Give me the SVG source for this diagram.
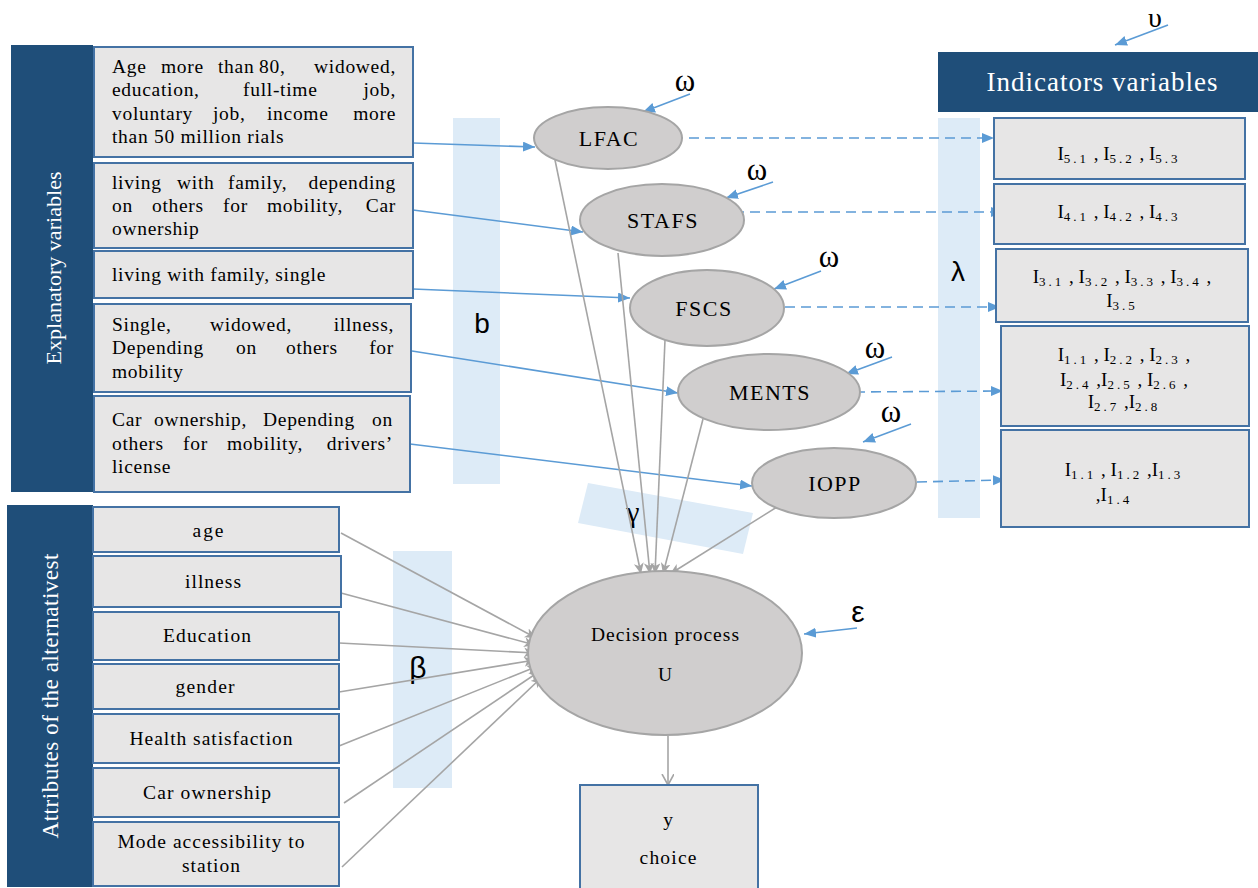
<svg xmlns="http://www.w3.org/2000/svg" width="1258" height="888" viewBox="0 0 1258 888">
<style>
.dark{fill:#1F4E79}
.box{fill:#E7E6E6;stroke:#4472A4;stroke-width:2}
.band{fill:#DDEBF7}
.ell{fill:#D0CECE;stroke:#A5A5A5;stroke-width:2}
.t{font-family:"Liberation Serif","Times New Roman",serif;fill:#000;font-size:19.5px;letter-spacing:0.7px}
.tc{font-family:"Liberation Serif","Times New Roman",serif;fill:#000;font-size:19.5px;text-anchor:middle}
.lbl{font-family:"Liberation Serif","Times New Roman",serif;fill:#000;font-size:22px;letter-spacing:1.5px;text-anchor:middle}
.wt{font-family:"Liberation Serif","Times New Roman",serif;fill:#fff}
.gk{font-family:"Liberation Serif","Times New Roman",serif;fill:#000;text-anchor:middle}
.gs{font-family:"Liberation Sans",Arial,sans-serif;fill:#000;text-anchor:middle}
.ind{font-family:"Liberation Serif","Times New Roman",serif;fill:#000;font-size:19px;text-anchor:middle}
.sb{font-size:13px;letter-spacing:3px}
.blue{stroke:#5B9BD5;stroke-width:1.6;fill:none}
.dash{stroke:#5B9BD5;stroke-width:1.6;fill:none;stroke-dasharray:10 6}
.gray{stroke:#A5A5A5;stroke-width:1.6;fill:none}
</style>
<defs>
<marker id="ab" markerUnits="userSpaceOnUse" markerWidth="14" markerHeight="12" refX="12" refY="5" orient="auto">
<path d="M0,0 L12,5 L0,10 z" fill="#5B9BD5"/>
</marker>
<marker id="ag" markerUnits="userSpaceOnUse" markerWidth="14" markerHeight="14" refX="11" refY="6" orient="auto">
<path d="M0,0 L11,6 L0,12" fill="none" stroke="#A5A5A5" stroke-width="1.6"/>
</marker>
<marker id="agf" markerUnits="userSpaceOnUse" markerWidth="14" markerHeight="14" refX="11" refY="5" orient="auto">
<path d="M0,0 L11,5 L0,10 L3,5 z" fill="#A5A5A5"/>
</marker>
</defs>

<!-- background bands -->
<rect class="band" x="453" y="118" width="47" height="366"/>
<rect class="band" x="393" y="551" width="59" height="237"/>
<rect class="band" x="938" y="118" width="42" height="400"/>
<polygon class="band" points="588,483 753,513 743,554 578,523"/>
<text class="gs" x="482" y="333" font-size="28">b</text>
<text class="gs" x="418" y="678" font-size="30">β</text>
<text class="gs" x="958" y="281" font-size="28">λ</text>
<text class="gk" x="633" y="522" font-size="30">γ</text>

<!-- connectors -->
<g id="connectors">
<line class="blue" x1="413" y1="143" x2="535" y2="147" marker-end="url(#ab)"/>
<line class="blue" x1="413" y1="210" x2="583" y2="232" marker-end="url(#ab)"/>
<line class="blue" x1="413" y1="289" x2="630" y2="298" marker-end="url(#ab)"/>
<line class="blue" x1="412" y1="351" x2="678" y2="393" marker-end="url(#ab)"/>
<line class="blue" x1="410" y1="444" x2="752" y2="486" marker-end="url(#ab)"/>

<line class="dash" x1="673" y1="138" x2="994" y2="138" marker-end="url(#ab)"/>
<line class="dash" x1="734" y1="212" x2="1003" y2="212" marker-end="url(#ab)"/>
<line class="dash" x1="785" y1="307" x2="1000" y2="307" marker-end="url(#ab)"/>
<line class="dash" x1="855" y1="392" x2="1003" y2="391" marker-end="url(#ab)"/>
<line class="dash" x1="917" y1="482" x2="1005" y2="480" marker-end="url(#ab)"/>

<line class="blue" x1="1168" y1="25" x2="1115" y2="45" marker-end="url(#ab)"/>
<line class="blue" x1="690" y1="94" x2="643" y2="112" marker-end="url(#ab)"/>
<line class="blue" x1="773" y1="182" x2="726" y2="198" marker-end="url(#ab)"/>
<line class="blue" x1="821" y1="271" x2="774" y2="289" marker-end="url(#ab)"/>
<line class="blue" x1="892" y1="357" x2="846" y2="374" marker-end="url(#ab)"/>
<line class="blue" x1="911" y1="424" x2="863" y2="442" marker-end="url(#ab)"/>
<line class="blue" x1="857" y1="628" x2="804" y2="634" marker-end="url(#ab)"/>

<line class="gray" x1="555" y1="160" x2="641" y2="574" marker-end="url(#agf)"/>
<line class="gray" x1="618" y1="253" x2="650" y2="574" marker-end="url(#agf)"/>
<line class="gray" x1="665" y1="340" x2="655" y2="574" marker-end="url(#agf)"/>
<line class="gray" x1="703" y1="419" x2="663" y2="574" marker-end="url(#agf)"/>
<line class="gray" x1="777" y1="507" x2="670" y2="574" marker-end="url(#agf)"/>

<line class="gray" x1="341" y1="533" x2="536" y2="638" marker-end="url(#agf)"/>
<line class="gray" x1="341" y1="593" x2="535" y2="645" marker-end="url(#agf)"/>
<line class="gray" x1="339" y1="643" x2="535" y2="653" marker-end="url(#agf)"/>
<line class="gray" x1="339" y1="692" x2="535" y2="660" marker-end="url(#agf)"/>
<line class="gray" x1="339" y1="746" x2="538" y2="666" marker-end="url(#agf)"/>
<line class="gray" x1="344" y1="803" x2="540" y2="671" marker-end="url(#agf)"/>
<line class="gray" x1="342" y1="867" x2="542" y2="677" marker-end="url(#agf)"/>

<line class="gray" x1="668" y1="736" x2="668" y2="785" marker-end="url(#ag)"/>
</g>

<!-- Explanatory variables panel -->
<g id="explanatory">
<rect class="dark" x="11" y="45" width="82" height="447"/>
<text class="wt" font-size="22" text-anchor="middle" textLength="193" lengthAdjust="spacing" transform="translate(61,268) rotate(-90)">Explanatory variables</text>
</g>
<g id="ex1">
<rect class="box" x="94" y="47" width="319" height="110"/>
<text class="t" y="73"><tspan x="112">Age</tspan><tspan x="161">more</tspan><tspan x="218">than</tspan><tspan x="259">80,</tspan><tspan x="396" text-anchor="end">widowed,</tspan></text>
<text class="t" y="96"><tspan x="112">education,</tspan><tspan x="243">full-time</tspan><tspan x="396" text-anchor="end">job,</tspan></text>
<text class="t" y="120"><tspan x="112">voluntary</tspan><tspan x="213">job,</tspan><tspan x="267">income</tspan><tspan x="396" text-anchor="end">more</tspan></text>
<text class="t" x="112" y="143">than 50 million rials</text>
</g>
<g id="ex2">
<rect class="box" x="94" y="163" width="319" height="85"/>
<text class="t" y="189"><tspan x="112">living</tspan><tspan x="177">with</tspan><tspan x="228">family,</tspan><tspan x="396" text-anchor="end">depending</tspan></text>
<text class="t" y="212"><tspan x="112">on</tspan><tspan x="152">others</tspan><tspan x="223">for</tspan><tspan x="267">mobility,</tspan><tspan x="396" text-anchor="end">Car</tspan></text>
<text class="t" x="112" y="235">ownership</text>
</g>
<g id="ex3">
<rect class="box" x="94" y="251" width="319" height="47"/>
<text class="t" x="112" y="281">living with family, single</text>
</g>
<g id="ex4">
<rect class="box" x="94" y="304" width="317" height="88"/>
<text class="t" y="331"><tspan x="112">Single,</tspan><tspan x="210">widowed,</tspan><tspan x="394" text-anchor="end">illness,</tspan></text>
<text class="t" y="354"><tspan x="112">Depending</tspan><tspan x="236">on</tspan><tspan x="286">others</tspan><tspan x="394" text-anchor="end">for</tspan></text>
<text class="t" x="112" y="378">mobility</text>
</g>
<g id="ex5">
<rect class="box" x="94" y="396" width="316" height="96"/>
<text class="t" y="426"><tspan x="112">Car</tspan><tspan x="154">ownership,</tspan><tspan x="263">Depending</tspan><tspan x="393" text-anchor="end">on</tspan></text>
<text class="t" y="450"><tspan x="112">others</tspan><tspan x="183">for</tspan><tspan x="227">mobility,</tspan><tspan x="393" text-anchor="end">drivers’</tspan></text>
<text class="t" x="112" y="473">license</text>
</g>

<!-- Attributes panel -->
<g id="attributes">
<rect class="dark" x="7" y="505" width="86" height="382"/>
<text class="wt" font-size="23" text-anchor="middle" textLength="285" lengthAdjust="spacing" transform="translate(58,696) rotate(-90)">Attributes of the alternativest</text>
</g>
<g id="at1"><rect class="box" x="93" y="507" width="246" height="45"/><text class="tc" x="208" y="537" textLength="31" lengthAdjust="spacing">age</text></g>
<g id="at2"><rect class="box" x="93" y="556" width="248" height="51"/><text class="tc" x="213" y="588" textLength="56" lengthAdjust="spacing">illness</text></g>
<g id="at3"><rect class="box" x="93" y="612" width="246" height="48"/><text class="tc" x="207" y="642" textLength="88" lengthAdjust="spacing">Education</text></g>
<g id="at4"><rect class="box" x="93" y="664" width="246" height="45"/><text class="tc" x="205" y="693" textLength="59" lengthAdjust="spacing">gender</text></g>
<g id="at5"><rect class="box" x="93" y="714" width="246" height="49"/><text class="tc" x="211" y="745" textLength="163" lengthAdjust="spacing">Health satisfaction</text></g>
<g id="at6"><rect class="box" x="93" y="768" width="246" height="49"/><text class="tc" x="207" y="799" textLength="128" lengthAdjust="spacing">Car ownership</text></g>
<g id="at7"><rect class="box" x="93" y="822" width="246" height="64"/><text class="tc" x="211" y="848" textLength="187" lengthAdjust="spacing">Mode accessibility to</text><text class="tc" x="211" y="872" textLength="58" lengthAdjust="spacing">station</text></g>

<!-- latent variables -->
<g id="lfac"><ellipse class="ell" cx="608" cy="138" rx="74" ry="31"/><text class="lbl" x="609" y="146">LFAC</text></g>
<g id="stafs"><ellipse class="ell" cx="662" cy="220" rx="82" ry="36"/><text class="lbl" x="663" y="228">STAFS</text></g>
<g id="fscs"><ellipse class="ell" cx="707" cy="308" rx="77" ry="38"/><text class="lbl" x="704" y="316">FSCS</text></g>
<g id="ments"><ellipse class="ell" cx="769" cy="392" rx="91" ry="38"/><text class="lbl" x="770" y="400">MENTS</text></g>
<g id="iopp"><ellipse class="ell" cx="834" cy="483" rx="82" ry="35"/><text class="lbl" x="835" y="491">IOPP</text></g>

<g id="omegas">
<text class="gk" x="685" y="91" font-size="31">ω</text>
<text class="gk" x="757" y="180" font-size="31">ω</text>
<text class="gk" x="829" y="267" font-size="31">ω</text>
<text class="gk" x="875" y="358" font-size="31">ω</text>
<text class="gk" x="891" y="422" font-size="31">ω</text>
<text class="gk" x="1155" y="27" font-size="28">υ</text>
<text class="gs" x="858" y="622" font-size="30">ε</text>
</g>

<!-- decision -->
<g id="decision"><ellipse class="ell" cx="665" cy="653" rx="137" ry="82"/><text class="tc" x="665" y="641" textLength="148" lengthAdjust="spacing">Decision process</text><text class="tc" x="665" y="681">U</text></g>
<g id="choice"><rect class="box" x="580" y="785" width="178" height="110"/><text class="tc" x="668" y="826">y</text><text class="tc" x="668" y="864" textLength="57" lengthAdjust="spacing">choice</text></g>

<!-- indicators -->
<g id="indicators"><rect class="dark" x="938" y="52" width="320" height="60"/><text class="wt" x="1102" y="91" font-size="27" text-anchor="middle" textLength="231" lengthAdjust="spacing">Indicators variables</text></g>
<g id="i5"><rect class="box" x="994" y="118" width="251" height="61"/>
<text class="ind" x="1119" y="160">I<tspan class="sb" dy="3">5.1</tspan><tspan dy="-3"> , I</tspan><tspan class="sb" dy="3">5.2</tspan><tspan dy="-3"> , I</tspan><tspan class="sb" dy="3">5.3</tspan></text></g>
<g id="i4"><rect class="box" x="994" y="184" width="251" height="60"/>
<text class="ind" x="1119" y="218">I<tspan class="sb" dy="3">4.1</tspan><tspan dy="-3"> , I</tspan><tspan class="sb" dy="3">4.2</tspan><tspan dy="-3"> , I</tspan><tspan class="sb" dy="3">4.3</tspan></text></g>
<g id="i3"><rect class="box" x="996" y="249" width="252" height="73"/>
<text class="ind" x="1122" y="283">I<tspan class="sb" dy="3">3.1</tspan><tspan dy="-3"> , I</tspan><tspan class="sb" dy="3">3.2</tspan><tspan dy="-3"> , I</tspan><tspan class="sb" dy="3">3.3</tspan><tspan dy="-3"> , I</tspan><tspan class="sb" dy="3">3.4</tspan><tspan dy="-3"> ,</tspan></text>
<text class="ind" x="1122" y="307">I<tspan class="sb" dy="3">3.5</tspan></text></g>
<g id="i2"><rect class="box" x="1001" y="326" width="248" height="100"/>
<text class="ind" x="1124" y="361">I<tspan class="sb" dy="3">1.1</tspan><tspan dy="-3"> ,  I</tspan><tspan class="sb" dy="3">2.2</tspan><tspan dy="-3"> , I</tspan><tspan class="sb" dy="3">2.3</tspan><tspan dy="-3"> ,</tspan></text>
<text class="ind" x="1124" y="386">I<tspan class="sb" dy="3">2.4</tspan><tspan dy="-3"> ,I</tspan><tspan class="sb" dy="3">2.5</tspan><tspan dy="-3"> , I</tspan><tspan class="sb" dy="3">2.6</tspan><tspan dy="-3"> ,</tspan></text>
<text class="ind" x="1124" y="408">I<tspan class="sb" dy="3">2.7</tspan><tspan dy="-3"> ,I</tspan><tspan class="sb" dy="3">2.8</tspan></text></g>
<g id="i1"><rect class="box" x="1001" y="430" width="248" height="97"/>
<text class="ind" x="1124" y="476">I<tspan class="sb" dy="3">1.1</tspan><tspan dy="-3"> , I</tspan><tspan class="sb" dy="3">1.2</tspan><tspan dy="-3">  ,I</tspan><tspan class="sb" dy="3">1.3</tspan></text>
<text class="ind" x="1114" y="501">,I<tspan class="sb" dy="3">1.4</tspan></text></g>
</svg>
